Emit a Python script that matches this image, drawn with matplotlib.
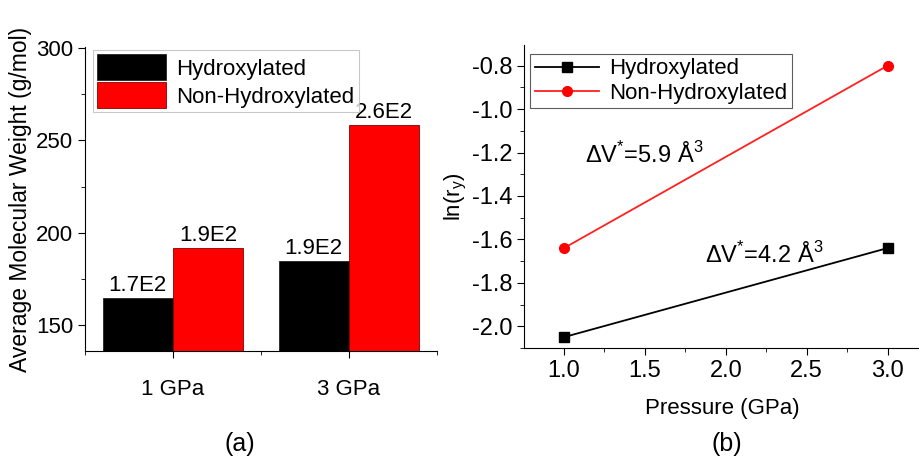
import numpy as np
import matplotlib
matplotlib.use("Agg")
import matplotlib.pyplot as plt
from matplotlib.ticker import MultipleLocator

plt.rcParams['font.family'] = ['Liberation Sans', 'DejaVu Sans']
plt.rcParams['axes.unicode_minus'] = False
plt.rcParams['mathtext.fontset'] = 'custom'
plt.rcParams['mathtext.rm'] = 'Liberation Sans'

# data
categories = ['1 GPa', '3 GPa']
mw_hydroxylated = [165, 185]
mw_non_hydroxylated = [192, 258.5]
mw_labels_h = ['1.7E2', '1.9E2']
mw_labels_n = ['1.9E2', '2.6E2']

pressure = [1.0, 3.0]
ln_ry_hydroxylated = [-2.05, -1.64]
ln_ry_non_hydroxylated = [-1.64, -0.80]

fig = plt.figure(figsize=(9.2, 4.62), dpi=100)
fs = 16

# ---- (a) bar chart
ax1 = fig.add_axes([0.0924, 0.240, 0.3826, 0.658])
x = np.arange(1, len(categories) + 1)
w = 0.4
ax1.bar(x - w/2, mw_hydroxylated, w, color='black', edgecolor='#222222', linewidth=0.6,
        label='Hydroxylated')
ax1.bar(x + w/2, mw_non_hydroxylated, w, color='#ff0000', edgecolor='#880000', linewidth=0.6,
        label='Non-Hydroxylated')
for xi, v, t in zip(x - w/2, mw_hydroxylated, mw_labels_h):
    ax1.text(xi, v + 1, t, ha='center', va='bottom', fontsize=fs)
for xi, v, t in zip(x + w/2, mw_non_hydroxylated, mw_labels_n):
    ax1.text(xi, v + 1, t, ha='center', va='bottom', fontsize=fs)
ax1.set_xlim(0.5, 2.5)
ax1.set_ylim(136, 300.5)
ax1.set_xticks(x)
ax1.set_xticklabels(categories, fontsize=fs)
ax1.set_xticks([0.5, 1.5, 2.5], minor=True)
ax1.yaxis.set_major_locator(MultipleLocator(50))
ax1.yaxis.set_minor_locator(MultipleLocator(25))
ax1.tick_params(axis='y', labelsize=fs, direction='out', length=5)
ax1.tick_params(axis='x', which='major', direction='out', length=5, pad=15)
ax1.tick_params(which='minor', direction='out', length=3)
for s in ['top', 'right']:
    ax1.spines[s].set_visible(False)
ax1.set_ylabel('Average Molecular Weight (g/mol)', fontsize=16.5, labelpad=3)
leg1 = ax1.legend(loc='upper left', bbox_to_anchor=(0.01, 1.005), fontsize=fs,
                  frameon=True, fancybox=False, edgecolor='#bbbbbb', handlelength=3.1,
                  handleheight=1.4, borderpad=0.2, labelspacing=0.1, handletextpad=0.45,
                  borderaxespad=0.2)
leg1.get_frame().set_linewidth(0.8)
fig.text(0.261, 0.04, '(a)', ha='center', va='center', fontsize=18)

# ---- (b) line chart
ax2 = fig.add_axes([0.5696, 0.2468, 0.4304, 0.6558])
ax2.plot(pressure, ln_ry_hydroxylated, color='black', marker='s', markersize=6.5,
         linewidth=1.3, label='Hydroxylated')
ax2.plot(pressure, ln_ry_non_hydroxylated, color='#ff2020', marker='o', markersize=7,
         markerfacecolor='#ff0000', markeredgecolor='#ff0000', linewidth=1.3,
         label='Non-Hydroxylated')
ax2.set_xlim(0.753, 3.2)
ax2.set_ylim(-2.10, -0.705)
ax2.xaxis.set_major_locator(MultipleLocator(0.5))
ax2.xaxis.set_minor_locator(MultipleLocator(0.25))
ax2.yaxis.set_major_locator(MultipleLocator(0.2))
ax2.yaxis.set_minor_locator(MultipleLocator(0.1))
ax2.tick_params(labelsize=17, direction='out', length=5)
ax2.tick_params(which='minor', direction='out', length=3)
for s in ['top', 'right']:
    ax2.spines[s].set_visible(False)
ax2.set_xlabel('Pressure (GPa)', fontsize=fs, labelpad=12)
ax2.set_ylabel(r'ln(r$_\mathregular{y}$)', fontsize=fs, labelpad=2)
ax2.text(1.13, -1.21, r'$\Delta$V$^\mathregular{*}$=5.9 Å$^\mathregular{3}$', fontsize=17,
         ha='left', va='center')
ax2.text(1.87, -1.67, r'$\Delta$V$^\mathregular{*}$=4.2 Å$^\mathregular{3}$', fontsize=17,
         ha='left', va='center')
leg2 = ax2.legend(loc='upper left', bbox_to_anchor=(0.005, 0.985), fontsize=fs,
                  frameon=True, fancybox=False, edgecolor='#333333', handlelength=2.9,
                  borderpad=0.2, labelspacing=0.15, handletextpad=0.45, borderaxespad=0.2)
leg2.get_frame().set_linewidth(0.8)
fig.text(0.79, 0.04, '(b)', ha='center', va='center', fontsize=18)

fig.savefig('out.png', dpi=100)
